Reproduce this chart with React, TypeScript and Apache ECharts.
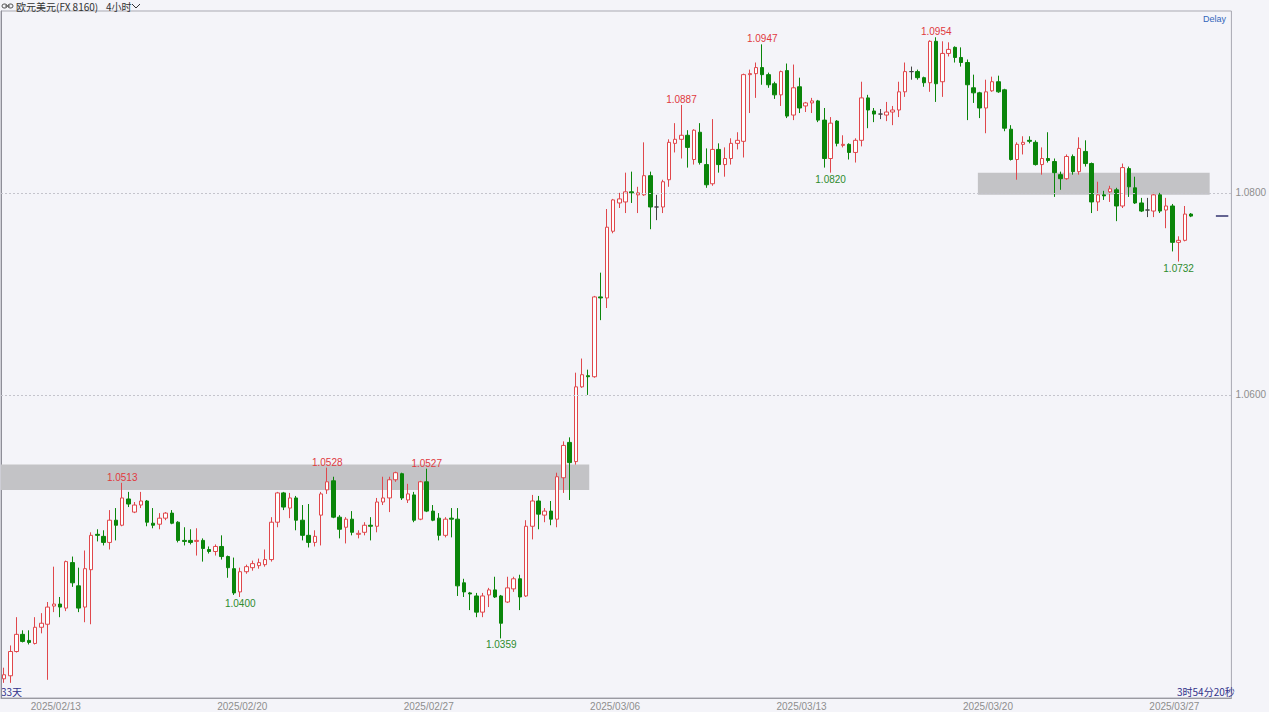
import React, { useEffect, useRef } from "react";
import * as echarts from "echarts";

// ---- data (EUR/USD 4h candles) ----
const opens = [
  1.0319, 1.0322, 1.0346, 1.0363, 1.0357, 1.0354, 1.037, 1.0373, 1.0391, 1.0393,
  1.0389, 1.0434, 1.0411, 1.039, 1.0427, 1.0462, 1.046, 1.0454, 1.0476, 1.0471,
  1.0497, 1.0484, 1.0491, 1.0495, 1.0473, 1.0472, 1.0478, 1.0483, 1.0474, 1.0456,
  1.0456, 1.0455, 1.0456, 1.0447, 1.0445, 1.045, 1.044, 1.0428, 1.0405, 1.0425,
  1.0429, 1.0431, 1.0432, 1.0437, 1.0474, 1.0503, 1.0488, 1.0498, 1.0476, 1.0461,
  1.0454, 1.0481, 1.0506, 1.0515, 1.0479, 1.0469, 1.0477, 1.0462, 1.0464, 1.0471,
  1.047, 1.0494, 1.0498, 1.0516, 1.0522, 1.0496, 1.0501, 1.0477, 1.0514, 1.0485,
  1.0478, 1.0461, 1.0478, 1.0477, 1.0414, 1.0404, 1.0401, 1.0385, 1.0402, 1.0407,
  1.0401, 1.0395, 1.0408, 1.0418, 1.0401, 1.047, 1.0495, 1.0481, 1.0485, 1.0477,
  1.0518, 1.0553, 1.0534, 1.0608, 1.0619, 1.0618, 1.0697, 1.0696, 1.0762, 1.079,
  1.0791, 1.0801, 1.0798, 1.0798, 1.0817, 1.0786, 1.0786, 1.0813, 1.0849, 1.0853,
  1.0857, 1.0833, 1.086, 1.0828, 1.0809, 1.0843, 1.0828, 1.0834, 1.0849, 1.0851,
  1.0917, 1.0918, 1.0924, 1.0917, 1.0908, 1.0897, 1.0921, 1.0877, 1.0905, 1.0886,
  1.0889, 1.0891, 1.0872, 1.0834, 1.0871, 1.0847, 1.0848, 1.084, 1.0852, 1.0894,
  1.0881, 1.0878, 1.0877, 1.088, 1.0882, 1.09, 1.092, 1.092, 1.0914, 1.0909,
  1.095, 1.091, 1.0938, 1.0944, 1.0934, 1.0929, 1.0904, 1.0899, 1.0884, 1.0901,
  1.091, 1.0902, 1.0863, 1.0833, 1.0848, 1.0852, 1.085, 1.0828, 1.0834, 1.0831,
  1.0818, 1.0814, 1.0836, 1.0821, 1.0841, 1.0829, 1.0791, 1.0798, 1.0801, 1.0803,
  1.0787, 1.0824, 1.0805, 1.079, 1.0783, 1.0782, 1.0798, 1.0783, 1.0787, 1.0751,
  1.0753, 1.0779,
];
const closes = [
  1.0323, 1.0346, 1.0363, 1.0356, 1.0355, 1.037, 1.0374, 1.039, 1.0393, 1.039,
  1.0435, 1.0414, 1.0389, 1.0428, 1.0461, 1.0461, 1.0454, 1.0476, 1.0471, 1.0498,
  1.0492, 1.0491, 1.0495, 1.0474, 1.0471, 1.0478, 1.0483, 1.0473, 1.0456, 1.0455,
  1.0454, 1.0456, 1.0448, 1.0445, 1.045, 1.044, 1.0429, 1.0404, 1.0425, 1.043,
  1.0433, 1.0434, 1.0437, 1.0474, 1.0503, 1.0489, 1.0498, 1.0476, 1.0461, 1.0454,
  1.046, 1.0502, 1.0514, 1.0479, 1.0467, 1.0477, 1.0464, 1.0463, 1.0471, 1.047,
  1.0494, 1.0498, 1.0516, 1.0523, 1.0498, 1.0502, 1.0476, 1.0514, 1.0485, 1.0476,
  1.0461, 1.0477, 1.0477, 1.0411, 1.0405, 1.0403, 1.0385, 1.0401, 1.0407, 1.04,
  1.0374, 1.0409, 1.0418, 1.04, 1.047, 1.0495, 1.0482, 1.0485, 1.0477, 1.0519,
  1.055, 1.0533, 1.0608, 1.062, 1.0618, 1.0697, 1.0696, 1.0766, 1.0793, 1.0794,
  1.0801, 1.08, 1.08, 1.0817, 1.0786, 1.0786, 1.0811, 1.085, 1.0853, 1.0857,
  1.0845, 1.0862, 1.083, 1.0808, 1.0843, 1.0828, 1.0834, 1.0849, 1.0852, 1.0917,
  1.0918, 1.0924, 1.0917, 1.0907, 1.0897, 1.092, 1.0876, 1.0904, 1.0884, 1.0889,
  1.0891, 1.0872, 1.0834, 1.0869, 1.0849, 1.0848, 1.084, 1.0852, 1.0894, 1.0882,
  1.0878, 1.0878, 1.088, 1.0882, 1.09, 1.092, 1.092, 1.0914, 1.0909, 1.095,
  1.0908, 1.0938, 1.0942, 1.0934, 1.0929, 1.0907, 1.0899, 1.0884, 1.09, 1.091,
  1.09, 1.0864, 1.0833, 1.0848, 1.085, 1.0851, 1.0828, 1.0834, 1.0832, 1.082,
  1.0814, 1.0836, 1.0821, 1.0844, 1.0829, 1.0791, 1.0798, 1.0797, 1.0804, 1.0787,
  1.0825, 1.0806, 1.079, 1.0782, 1.0783, 1.0798, 1.0782, 1.0787, 1.0751, 1.0753,
  1.0779, 1.0777,
];
const lows = [
  1.0315, 1.0315, 1.0345, 1.0355, 1.0353, 1.0353, 1.0364, 1.0318, 1.0385, 1.038,
  1.0386, 1.041, 1.0385, 1.0375, 1.0373, 1.0455, 1.0451, 1.0447, 1.0456, 1.047,
  1.0489, 1.0483, 1.0488, 1.047, 1.0468, 1.0467, 1.0476, 1.0472, 1.0454, 1.0451,
  1.0452, 1.0441, 1.0435, 1.0443, 1.0441, 1.0437, 1.0419, 1.0402, 1.04, 1.0423,
  1.0426, 1.0428, 1.043, 1.0435, 1.0469, 1.0486, 1.0478, 1.0466, 1.0456, 1.0449,
  1.045, 1.0451, 1.0502, 1.0478, 1.0458, 1.0453, 1.0461, 1.0458, 1.0461, 1.0456,
  1.0464, 1.0491, 1.0484, 1.0514, 1.0496, 1.0493, 1.0474, 1.0476, 1.0484, 1.0475,
  1.0456, 1.0459, 1.0459, 1.0401, 1.04, 1.0387, 1.038, 1.038, 1.039, 1.0399,
  1.0359, 1.0394, 1.0405, 1.0387, 1.04, 1.0457, 1.0467, 1.0474, 1.0471, 1.0469,
  1.0503, 1.0496, 1.0531, 1.0607, 1.06, 1.0617, 1.0674, 1.0686, 1.076, 1.0785,
  1.078, 1.079, 1.078, 1.0797, 1.0764, 1.0773, 1.078, 1.0806, 1.084, 1.0834,
  1.0825, 1.0828, 1.0828, 1.0805, 1.0807, 1.082, 1.0816, 1.0828, 1.0843, 1.0835,
  1.0879, 1.0894, 1.0907, 1.0904, 1.0893, 1.0886, 1.0874, 1.0872, 1.0879, 1.088,
  1.0879, 1.087, 1.0825, 1.082, 1.0846, 1.0845, 1.0833, 1.083, 1.0846, 1.0864,
  1.087, 1.0873, 1.0871, 1.0867, 1.0875, 1.0895, 1.0912, 1.0912, 1.0905, 1.09,
  1.089, 1.0895, 1.0935, 1.0929, 1.0925, 1.0872, 1.0889, 1.0874, 1.0859, 1.09,
  1.0899, 1.0861, 1.0832, 1.0813, 1.0838, 1.0849, 1.0827, 1.0818, 1.083, 1.0796,
  1.0803, 1.0813, 1.0818, 1.0818, 1.0826, 1.078, 1.0782, 1.0793, 1.0791, 1.0772,
  1.0785, 1.0796, 1.0789, 1.0781, 1.0776, 1.0776, 1.078, 1.0765, 1.0742, 1.0732,
  1.0752, 1.0776,
];
const highs = [
  1.033, 1.0352, 1.038, 1.0367, 1.0367, 1.038, 1.0384, 1.0395, 1.043, 1.04,
  1.0436, 1.044, 1.0429, 1.0446, 1.0464, 1.0467, 1.0466, 1.0486, 1.0488, 1.0513,
  1.0504, 1.0494, 1.0504, 1.0496, 1.0488, 1.0483, 1.0484, 1.0486, 1.0475, 1.0469,
  1.0467, 1.0468, 1.0458, 1.045, 1.0452, 1.0461, 1.0441, 1.0439, 1.0429, 1.0432,
  1.0436, 1.0438, 1.0447, 1.0479, 1.0504, 1.0504, 1.0503, 1.05, 1.0491, 1.0492,
  1.0466, 1.0504, 1.0528, 1.0519, 1.0481, 1.0479, 1.0485, 1.0466, 1.0474, 1.0479,
  1.0498, 1.0519, 1.0519, 1.0524, 1.0523, 1.0512, 1.0504, 1.0515, 1.0527, 1.0491,
  1.0483, 1.0479, 1.0488, 1.0488, 1.0418, 1.0405, 1.0404, 1.0404, 1.0409, 1.042,
  1.0402, 1.042, 1.042, 1.0422, 1.0476, 1.0501, 1.05, 1.0488, 1.0495, 1.0523,
  1.0554, 1.0558, 1.0622, 1.0636, 1.0625, 1.0698, 1.0721, 1.0784, 1.0794, 1.08,
  1.082, 1.0821, 1.0806, 1.085, 1.0821, 1.0798, 1.0813, 1.0853, 1.0869, 1.0887,
  1.0862, 1.0863, 1.0869, 1.0844, 1.0873, 1.0849, 1.0845, 1.0854, 1.086, 1.0918,
  1.0922, 1.0929, 1.0947, 1.0919, 1.091, 1.0921, 1.0928, 1.0927, 1.0914, 1.089,
  1.0894, 1.0892, 1.0884, 1.0875, 1.0872, 1.0857, 1.0849, 1.0854, 1.091, 1.0897,
  1.0884, 1.0883, 1.089, 1.0886, 1.091, 1.0929, 1.0925, 1.0922, 1.0915, 1.0951,
  1.0954, 1.095, 1.0949, 1.0945, 1.0944, 1.0932, 1.0917, 1.09, 1.0912, 1.0915,
  1.0916, 1.0903, 1.0867, 1.085, 1.0856, 1.0856, 1.0852, 1.0845, 1.086, 1.0834,
  1.0821, 1.0838, 1.0838, 1.0855, 1.0852, 1.083, 1.0811, 1.0802, 1.0807, 1.0805,
  1.0829, 1.0826, 1.0816, 1.0795, 1.0795, 1.08, 1.08, 1.0795, 1.0789, 1.0757,
  1.0787, 1.078,
];

const SLOT_COUNT = 198;
const dateTickIndex = [8, 38, 68, 98, 128, 158, 188];
const dateTickLabels = ["2025/02/13", "2025/02/20", "2025/02/27", "2025/03/06", "2025/03/13", "2025/03/20", "2025/03/27"];

const peakIndex = [19, 52, 68, 109, 122, 150];
const peakValue = [1.0513, 1.0528, 1.0527, 1.0887, 1.0947, 1.0954];
const troughIndex = [38, 80, 133, 189];
const troughValue = [1.04, 1.0359, 1.082, 1.0732];

const zoneStart = [0, 157.2];
const zoneEnd = [94.66, 194.5];
const zoneTop = [1.0531, 1.082];
const zoneBottom = [1.0506, 1.0798];

const priceTickLabels = [1.06, 1.08];

const BG = "#f4f4f9";
const UP = "#e0474c";
const DOWN = "#0a850a";

export default function App() {
  const ref = useRef<HTMLDivElement>(null);
  useEffect(() => {
    if (!ref.current) return;
    const chart = echarts.init(ref.current, undefined, { renderer: "svg" });
    const categories = Array.from({ length: SLOT_COUNT }, (_, i) => String(i));
    const candles = opens.map((o, i) => [o, closes[i], lows[i], highs[i]]);
    const last = closes[closes.length - 1];
    const cjk = '"Noto Sans CJK SC", sans-serif';

    const option: any = {
      animation: false,
      backgroundColor: BG,
      grid: { left: 1, right: 36, top: 11, bottom: 14, show: true, borderColor: "#a9a9b2", borderWidth: 1 },
      xAxis: [
        {
          type: "category",
          data: categories,
          boundaryGap: true,
          axisLine: { show: true, lineStyle: { color: "#9a9aa2" } },
          axisTick: { show: false },
          splitLine: { show: false },
          axisLabel: {
            interval: (i: number) => dateTickIndex.includes(i),
            formatter: (_v: string, i: number) => {
              const k = dateTickIndex.indexOf(i);
              return k >= 0 ? dateTickLabels[k] : "";
            },
            color: "#8e8e8e",
            fontSize: 10,
            fontFamily: "Liberation Sans",
            margin: 3,
            padding: [0, 0, 0, 4],
          },
        },
        { type: "value", min: 0, max: SLOT_COUNT, show: false },
      ],
      yAxis: {
        type: "value",
        position: "right",
        min: 1.03,
        max: 1.098,
        interval: 0.01,
        axisLine: { show: true, lineStyle: { color: "#8e8e98" } },
        axisTick: { show: false },
        splitLine: { show: false },
        axisLabel: {
          formatter: (v: number) => (priceTickLabels.some((t) => Math.abs(t - v) < 1e-6) ? v.toFixed(4) : ""),
          color: "#8e8e8e",
          fontSize: 10,
          fontFamily: "Liberation Sans",
          margin: 4,
        },
      },
      series: [
        {
          type: "line",
          xAxisIndex: 1,
          data: [],
          silent: true,
          markArea: {
            silent: true,
            itemStyle: { color: "#c3c3c6", opacity: 1 },
            data: zoneStart.map((s, i) => [
              { xAxis: s, yAxis: zoneTop[i] },
              { xAxis: zoneEnd[i], yAxis: zoneBottom[i] },
            ]),
          },
          markLine: {
            silent: true,
            symbol: "none",
            label: { show: false },
            lineStyle: { color: "#c4c4cc", type: [2, 2], width: 1 },
            data: priceTickLabels.map((p) => ({ yAxis: p })),
          },
        },
        {
          type: "candlestick",
          data: candles,
          barWidth: 4,
          silent: true,
          itemStyle: {
            color: "#ffffff",
            color0: DOWN,
            borderColor: UP,
            borderColor0: DOWN,
            borderColorDoji: "#444444",
            borderWidth: 1,
          },
          markPoint: {
            silent: true,
            symbol: "circle",
            symbolSize: 1,
            itemStyle: { color: "rgba(0,0,0,0)" },
            data: [
              ...peakIndex.map((idx, i) => ({
                coord: [idx, peakValue[i]],
                value: peakValue[i].toFixed(4),
                label: { show: true, position: "top", distance: 0, color: "#e0393e", fontSize: 10, fontFamily: "Liberation Sans", formatter: "{c}" },
              })),
              ...troughIndex.map((idx, i) => ({
                coord: [idx, troughValue[i]],
                value: troughValue[i].toFixed(4),
                label: { show: true, position: "bottom", distance: 1, color: "#2e8b2e", fontSize: 10, fontFamily: "Liberation Sans", formatter: "{c}" },
              })),
            ],
          },
          markLine: {
            silent: true,
            symbol: "none",
            label: { show: false },
            lineStyle: { color: "#33336e", type: "solid", width: 1.5 },
            data: [[{ coord: [195, last] }, { coord: [SLOT_COUNT - 1, last] }]],
          },
        },
      ],
      graphic: [
        { type: "rect", shape: { x: 2, y: 4, width: 5, height: 4, r: 2 }, style: { fill: "none", stroke: "#555", lineWidth: 1 } },
        { type: "rect", shape: { x: 8, y: 4, width: 5, height: 4, r: 2 }, style: { fill: "none", stroke: "#555", lineWidth: 1 } },
        { type: "line", shape: { x1: 5, y1: 6, x2: 10, y2: 6 }, style: { stroke: "#555", lineWidth: 1 } },
        { type: "text", x: 16, y: 6, style: { text: "欧元美元(FX 8160)", font: `10px ${cjk}`, fill: "#333", verticalAlign: "middle" } },
        { type: "text", x: 106, y: 6, style: { text: "4小时", font: `10px ${cjk}`, fill: "#333", verticalAlign: "middle" } },
        { type: "polyline", shape: { points: [[132, 4], [136, 8], [140, 4]] }, style: { stroke: "#333", lineWidth: 1, fill: "none" } },
        { type: "text", x: 1203, y: 19, style: { text: "Delay", font: "9px Liberation Sans", fill: "#3366bb", verticalAlign: "middle" } },
        { type: "text", x: 1, y: 691, style: { text: "33天", font: `10px ${cjk}`, fill: "#33338a", verticalAlign: "middle" } },
        { type: "text", x: 1177, y: 691, style: { text: "3时54分20秒", font: `10px ${cjk}`, fill: "#33338a", verticalAlign: "middle" } },
      ],
    };
    chart.setOption(option);
    return () => chart.dispose();
  }, []);
  return <div ref={ref} style={{ position: "fixed", left: 0, top: 0, width: 1269, height: 712 }} />;
}
